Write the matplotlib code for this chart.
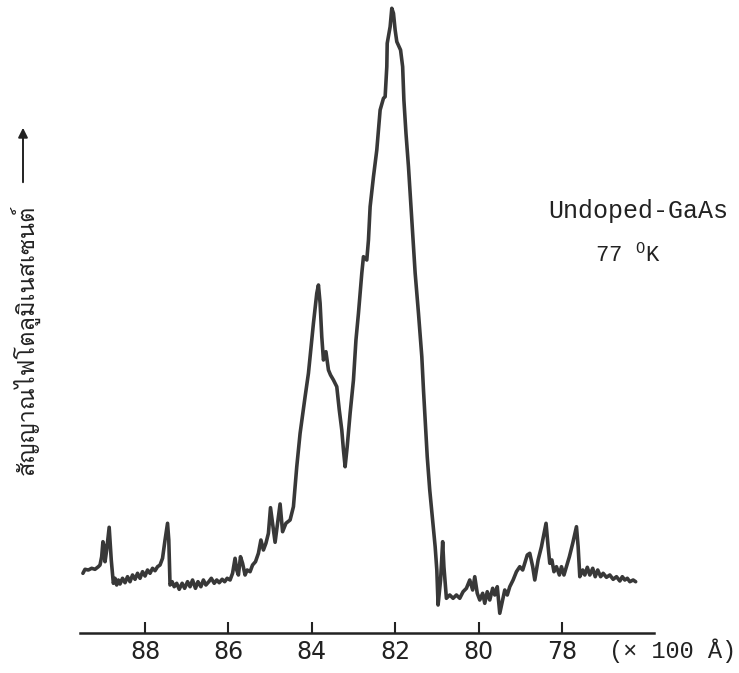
import matplotlib
matplotlib.use("Agg")
import matplotlib.pyplot as plt
from matplotlib import font_manager
from matplotlib.ft2font import FT2Font

# ---------------- data ----------------
wavelength = [
    89.49, 89.44, 89.36, 89.28, 89.20, 89.12, 89.08, 89.04, 89.01, 88.98,
    88.96, 88.92, 88.86, 88.84, 88.81, 88.78, 88.76, 88.72, 88.68, 88.64,
    88.60, 88.54, 88.48, 88.42, 88.36, 88.30, 88.24, 88.18, 88.12, 88.06,
    88.00, 87.94, 87.88, 87.82, 87.76, 87.70, 87.64, 87.58, 87.52, 87.46,
    87.43, 87.40, 87.35, 87.30, 87.24, 87.18, 87.11, 87.05, 86.98, 86.92,
    86.86, 86.79, 86.73, 86.66, 86.60, 86.54, 86.47, 86.41, 86.34, 86.28,
    86.22, 86.15, 86.09, 86.03, 85.96, 85.90, 85.84, 85.80, 85.76, 85.71,
    85.66, 85.60, 85.55, 85.48, 85.42, 85.35, 85.28, 85.22, 85.16, 85.10,
    85.04, 84.99, 84.88, 84.76, 84.70, 84.62, 84.52, 84.44, 84.36, 84.28,
    84.16, 84.08, 83.96, 83.88, 83.84, 83.80, 83.76, 83.72, 83.66, 83.60,
    83.55, 83.48, 83.40, 83.34, 83.28, 83.24, 83.20, 83.15, 83.08, 83.00,
    82.94, 82.88, 82.83, 82.80, 82.76, 82.68, 82.64, 82.60, 82.52, 82.44,
    82.36, 82.28, 82.24, 82.20, 82.19, 82.12, 82.08, 82.04, 82.00, 81.96,
    81.87, 81.82, 81.79, 81.74, 81.68, 81.64, 81.58, 81.52, 81.44, 81.36,
    81.32, 81.28, 81.23, 81.17, 81.10, 81.04, 81.00, 80.97, 80.91, 80.86,
    80.83, 80.77, 80.69, 80.61, 80.53, 80.45, 80.37, 80.29, 80.21, 80.14,
    80.09, 80.03, 79.97, 79.90, 79.85, 79.79, 79.73, 79.66, 79.61, 79.55,
    79.49, 79.42, 79.37, 79.31, 79.25, 79.17, 79.09, 79.01, 78.94, 78.89,
    78.83, 78.77, 78.70, 78.65, 78.61, 78.57, 78.49, 78.38, 78.33, 78.29,
    78.24, 78.19, 78.13, 78.06, 78.01, 77.95, 77.89, 77.82, 77.74, 77.65,
    77.61, 77.57, 77.50, 77.45, 77.39, 77.33, 77.26, 77.20, 77.14, 77.07,
    77.01, 76.93, 76.85, 76.77, 76.69, 76.61, 76.55, 76.49, 76.43, 76.37,
    76.29, 76.23,
]
intensity = [
    59.7, 63.7, 63.0, 64.7, 63.7, 66.3, 68.0, 76.3, 91.3, 86.3,
    71.3, 83.0, 105.7, 93.0, 73.0, 59.7, 49.7, 54.7, 48.0, 53.0,
    49.0, 54.7, 50.3, 56.3, 51.3, 58.0, 53.7, 59.7, 54.7, 61.3,
    57.0, 63.0, 59.7, 64.7, 62.3, 66.3, 68.0, 74.7, 93.0, 109.7,
    93.0, 48.0, 51.3, 46.3, 49.7, 43.7, 49.7, 44.7, 51.3, 46.3,
    53.0, 44.7, 51.3, 46.3, 53.0, 48.0, 51.3, 54.7, 49.7, 53.0,
    50.3, 53.7, 51.3, 54.7, 53.0, 59.7, 74.7, 63.0, 58.0, 76.3,
    69.7, 58.0, 63.0, 61.3, 68.0, 71.3, 79.7, 93.0, 83.0, 89.7,
    99.7, 125.3, 90.7, 129.0, 101.3, 109.7, 113.0, 126.3, 166.3, 199.7,
    236.3, 259.7, 309.7, 339.7, 348.0, 329.7, 296.3, 273.0, 281.3, 263.0,
    258.0, 253.0, 246.3, 223.0, 203.0, 183.0, 166.3, 186.3, 219.7, 253.0,
    293.0, 319.7, 345.0, 359.7, 376.3, 373.0, 393.0, 426.3, 456.3, 483.0,
    523.0, 534.7, 536.3, 566.3, 589.7, 606.3, 624.7, 619.7, 603.0, 591.3,
    583.0, 566.3, 533.0, 499.7, 466.3, 439.7, 399.7, 360.0, 319.7, 276.3,
    243.0, 213.0, 176.3, 143.0, 113.0, 86.3, 63.0, 28.0, 53.0, 91.3,
    66.3, 34.7, 38.0, 34.7, 38.0, 34.7, 41.3, 44.7, 53.0, 43.0,
    56.3, 39.7, 33.0, 39.7, 29.7, 41.3, 33.0, 44.7, 38.0, 46.3,
    19.7, 33.0, 43.0, 38.0, 46.3, 53.0, 61.3, 66.3, 63.0, 69.7,
    78.0, 79.7, 66.3, 53.0, 63.0, 73.0, 86.3, 109.7, 86.3, 69.7,
    73.0, 61.3, 66.3, 58.0, 66.3, 58.0, 66.3, 76.3, 89.7, 106.3,
    86.3, 56.3, 63.0, 58.0, 65.7, 58.0, 64.7, 56.3, 63.0, 56.3,
    59.7, 55.7, 58.0, 53.7, 56.3, 52.0, 56.3, 53.0, 54.7, 51.3,
    53.0, 51.3,
]
tick_values = [88, 86, 84, 82, 80, 78]
tick_labels = ["88", "86", "84", "82", "80", "78"]
x_unit_label = "(× 100 Å)"
y_label = "สัญญาณไฟโตลูมิเนสเซนต์"
sample_label = "Undoped-GaAs"
temp_label = r"77 $^{\mathregular{O}}$K"


def find_font(ch):
    cands = []
    seen = set()
    for f in font_manager.fontManager.ttflist:
        if f.fname in seen:
            continue
        seen.add(f.fname)
        try:
            cmap = FT2Font(f.fname).get_charmap()
        except Exception:
            continue
        if ord(ch) in cmap:
            score = 0
            if f.style == "normal":
                score += 2
            if f.weight in (400, "normal", "regular"):
                score += 1
            cands.append((score, f.name))
    if not cands:
        return None
    cands.sort(key=lambda t: -t[0])
    return cands[0][1]


thai_font = find_font("ส")
thai_family = [thai_font, "DejaVu Sans"] if thai_font else ["DejaVu Sans"]

W, H = 739, 673
fig = plt.figure(figsize=(W / 100, H / 100), dpi=100)
fig.patch.set_facecolor("white")

# axes: x-axis line at pixel y=633, spanning x pixels 80..654
ax = fig.add_axes([80 / W, (H - 633) / H, 574 / W, 633 / H])
ax.set_facecolor("none")
ax.plot(wavelength, intensity, color="#383838", lw=2.6,
        solid_joinstyle="round", solid_capstyle="round")
ax.set_xlim(89.56, 75.79)
ax.set_ylim(0, 633)

for s in ["top", "right", "left"]:
    ax.spines[s].set_visible(False)
ax.spines["bottom"].set_linewidth(1.8)
ax.spines["bottom"].set_color("#222222")
ax.set_yticks([])
ax.set_xticks(tick_values)
ax.set_xticklabels(tick_labels, fontsize=17, family="DejaVu Sans", color="#222222")
ax.tick_params(axis="x", direction="in", length=8, width=1.5, color="#222222", pad=5)

fig.text(609 / W, 1 - 658 / H, x_unit_label, fontsize=17,
         family="Liberation Mono", color="#222222", ha="left", va="baseline")
fig.text(548 / W, 1 - 218 / H, sample_label, fontsize=18,
         family="Liberation Mono", color="#222222", ha="left", va="baseline")
fig.text(595 / W, 1 - 262 / H, temp_label, fontsize=16,
         family="Liberation Mono", color="#222222", ha="left", va="baseline")

fig.text(25 / W, 1 - 340 / H, y_label, rotation=90, fontsize=17,
         family=thai_family, color="#222222", ha="center", va="center")
fig.patches.append(matplotlib.patches.FancyArrowPatch(
    (23 / W, 1 - 185 / H), (23 / W, 1 - 125 / H), transform=fig.transFigure,
    arrowstyle="-|>", mutation_scale=14, lw=1.4, color="#222222"))

fig.savefig("out.png", dpi=100, facecolor="white")
